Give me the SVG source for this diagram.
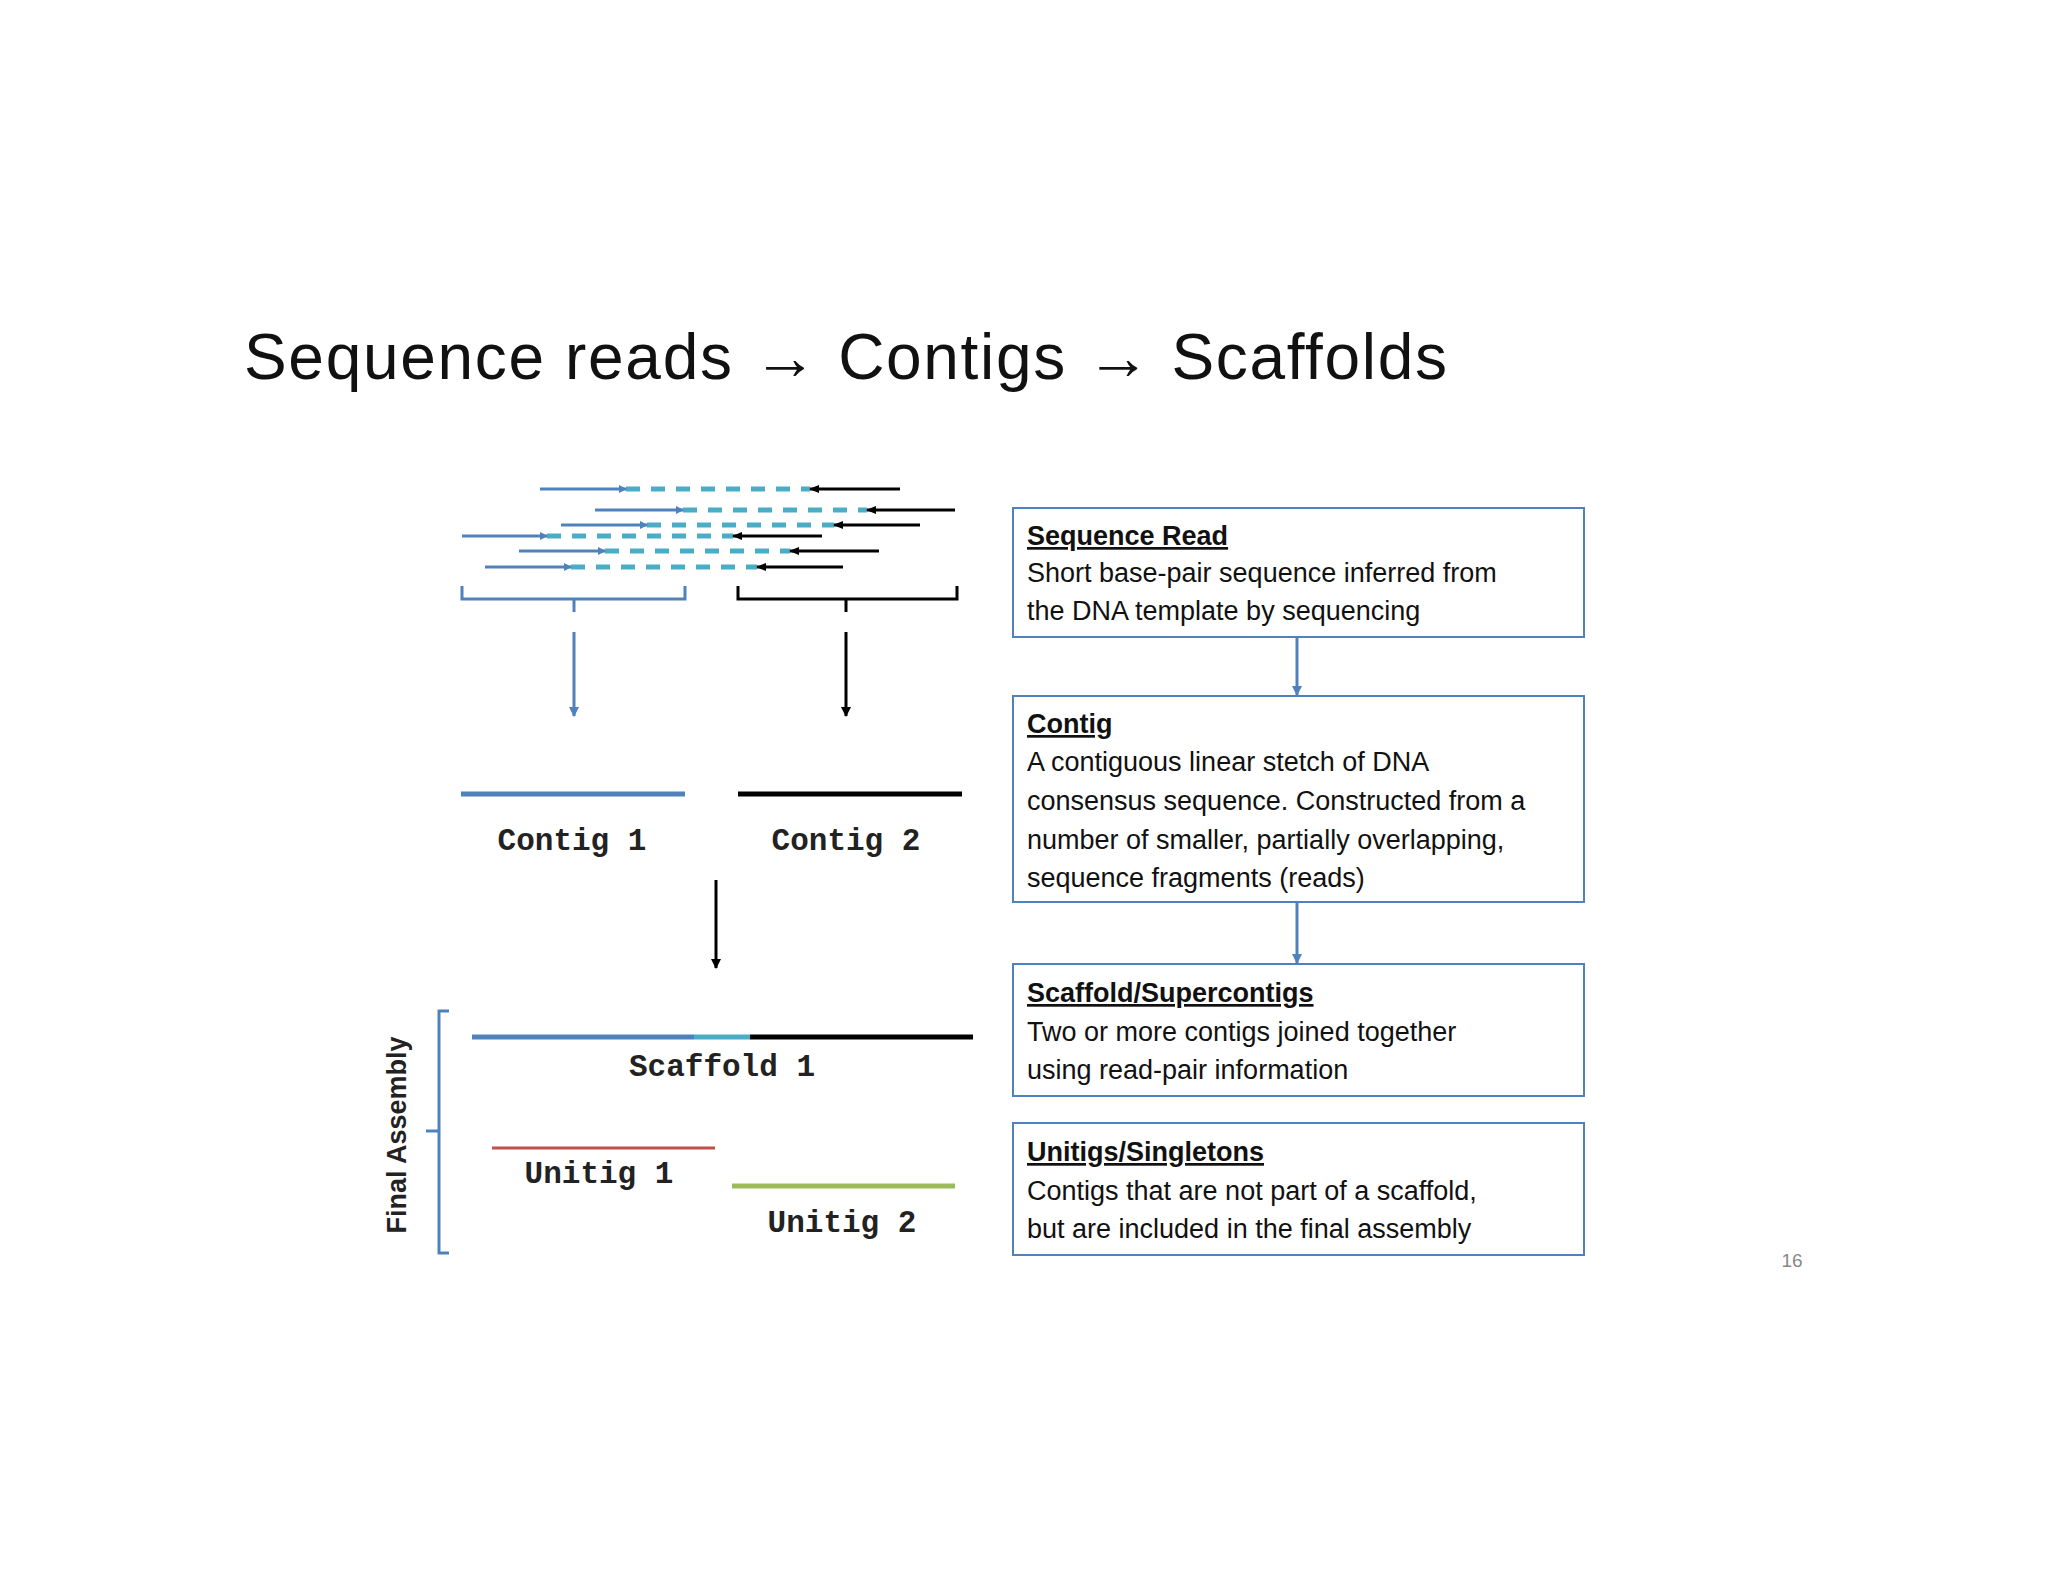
<svg xmlns="http://www.w3.org/2000/svg" width="2048" height="1582" viewBox="0 0 2048 1582">
<defs>
<marker id="ab" markerWidth="8" markerHeight="8" refX="7" refY="4" orient="auto" markerUnits="userSpaceOnUse"><path d="M0,0 L8,4 L0,8 Z" fill="#4f81bd"/></marker>
<marker id="ak" markerWidth="10" markerHeight="8" refX="9" refY="4" orient="auto" markerUnits="userSpaceOnUse"><path d="M0,0 L10,4 L0,8 Z" fill="#000"/></marker>
<marker id="db" markerWidth="10" markerHeight="10" refX="9" refY="5" orient="auto" markerUnits="userSpaceOnUse"><path d="M0,0 L10,5 L0,10 Z" fill="#4f81bd"/></marker>
<marker id="dk" markerWidth="10" markerHeight="10" refX="9" refY="5" orient="auto" markerUnits="userSpaceOnUse"><path d="M0,0 L10,5 L0,10 Z" fill="#000"/></marker>
</defs>
<style>
.b{stroke:#4f81bd;stroke-width:3;fill:none}
.k{stroke:#000;stroke-width:3;fill:none}
.d{stroke:#4bacc6;stroke-width:5;stroke-dasharray:14,11;fill:none}
.m{font-family:"Liberation Mono",monospace;font-weight:bold;font-size:31px;fill:#222;text-anchor:middle}
.box{fill:#fff;stroke:#4f81bd;stroke-width:2}
.t{font-family:"Liberation Sans",Arial,sans-serif;font-size:27px;fill:#111}
.h{font-weight:bold;text-decoration:underline}
</style>
<rect width="2048" height="1582" fill="#fff"/>
<text x="244" y="379" font-family="Liberation Sans, sans-serif" font-size="64" fill="#111" textLength="1203">Sequence reads → Contigs → Scaffolds</text>
<g id="reads">
<line class="d" x1="626" y1="489" x2="810" y2="489"/><line class="b" x1="540" y1="489" x2="626" y2="489" marker-end="url(#ab)"/><line class="k" x1="900" y1="489" x2="810" y2="489" marker-end="url(#ak)"/>
<line class="d" x1="683" y1="510" x2="867" y2="510"/><line class="b" x1="595" y1="510" x2="683" y2="510" marker-end="url(#ab)"/><line class="k" x1="955" y1="510" x2="867" y2="510" marker-end="url(#ak)"/>
<line class="d" x1="647" y1="525" x2="834" y2="525"/><line class="b" x1="561" y1="525" x2="647" y2="525" marker-end="url(#ab)"/><line class="k" x1="920" y1="525" x2="834" y2="525" marker-end="url(#ak)"/>
<line class="d" x1="547" y1="536" x2="733" y2="536"/><line class="b" x1="462" y1="536" x2="547" y2="536" marker-end="url(#ab)"/><line class="k" x1="822" y1="536" x2="733" y2="536" marker-end="url(#ak)"/>
<line class="d" x1="605" y1="551" x2="790" y2="551"/><line class="b" x1="519" y1="551" x2="605" y2="551" marker-end="url(#ab)"/><line class="k" x1="879" y1="551" x2="790" y2="551" marker-end="url(#ak)"/>
<line class="d" x1="571" y1="567" x2="757" y2="567"/><line class="b" x1="485" y1="567" x2="571" y2="567" marker-end="url(#ab)"/><line class="k" x1="843" y1="567" x2="757" y2="567" marker-end="url(#ak)"/>
<path class="b" d="M462,586 V599 H685 V586 M574,599 V612"/>
<path class="k" d="M738,586 V599 H957 V586 M846,599 V612"/>
</g>
<g id="contig1"><line x1="461" y1="794" x2="685" y2="794" stroke="#4f81bd" stroke-width="5"/><text class="m" x="572" y="850">Contig 1</text></g>
<g id="contig2"><line x1="738" y1="794" x2="962" y2="794" stroke="#000" stroke-width="5"/><text class="m" x="846" y="850">Contig 2</text></g>
<g id="scaffold1">
<line x1="472" y1="1037" x2="694" y2="1037" stroke="#4f81bd" stroke-width="5"/>
<line x1="694" y1="1037" x2="750" y2="1037" stroke="#4bacc6" stroke-width="5"/>
<line x1="750" y1="1037" x2="973" y2="1037" stroke="#000" stroke-width="5"/>
<text class="m" x="722" y="1076">Scaffold 1</text></g>
<g id="unitig1"><line x1="492" y1="1148" x2="715" y2="1148" stroke="#c0504d" stroke-width="3"/><text class="m" x="599" y="1183">Unitig 1</text></g>
<g id="unitig2"><line x1="732" y1="1186" x2="955" y2="1186" stroke="#9bbb59" stroke-width="5"/><text class="m" x="842" y="1232">Unitig 2</text></g>
<g id="final">
<path d="M449,1011 H439 V1253 H449 M439,1131 H426" stroke="#4f81bd" stroke-width="3" fill="none"/>
<text transform="translate(406,1135) rotate(-90)" text-anchor="middle" font-family="Liberation Sans, sans-serif" font-weight="bold" font-size="27" fill="#222">Final Assembly</text>
</g>
<g id="box1"><rect class="box" x="1013" y="508" width="571" height="129"/>
<text class="t" x="1027" y="545"><tspan class="h">Sequence Read</tspan><tspan x="1027" y="582">Short base-pair sequence inferred from</tspan><tspan x="1027" y="620">the DNA template by sequencing</tspan></text></g>
<g id="box2"><rect class="box" x="1013" y="696" width="571" height="206"/>
<text class="t" x="1027" y="733"><tspan class="h">Contig</tspan><tspan x="1027" y="771">A contiguous linear stetch of DNA</tspan><tspan x="1027" y="810">consensus sequence. Constructed from a</tspan><tspan x="1027" y="849">number of smaller, partially overlapping,</tspan><tspan x="1027" y="887">sequence fragments (reads)</tspan></text></g>
<g id="box3"><rect class="box" x="1013" y="964" width="571" height="132"/>
<text class="t" x="1027" y="1002"><tspan class="h">Scaffold/Supercontigs</tspan><tspan x="1027" y="1041">Two or more contigs joined together</tspan><tspan x="1027" y="1079">using read-pair information</tspan></text></g>
<g id="box4"><rect class="box" x="1013" y="1123" width="571" height="132"/>
<text class="t" x="1027" y="1161"><tspan class="h">Unitigs/Singletons</tspan><tspan x="1027" y="1200">Contigs that are not part of a scaffold,</tspan><tspan x="1027" y="1238">but are included in the final assembly</tspan></text></g>
<g id="connectors">
<line x1="574" y1="632" x2="574" y2="716" stroke="#4f81bd" stroke-width="3" marker-end="url(#db)"/>
<line x1="846" y1="632" x2="846" y2="716" stroke="#000" stroke-width="3" marker-end="url(#dk)"/>
<line x1="716" y1="880" x2="716" y2="968" stroke="#000" stroke-width="3" marker-end="url(#dk)"/>
<line x1="1297" y1="637" x2="1297" y2="695" stroke="#4f81bd" stroke-width="3" marker-end="url(#db)"/>
<line x1="1297" y1="902" x2="1297" y2="963" stroke="#4f81bd" stroke-width="3" marker-end="url(#db)"/>
</g>
<text x="1792" y="1267" font-family="Liberation Sans, sans-serif" font-size="19" fill="#888" text-anchor="middle">16</text>
</svg>
